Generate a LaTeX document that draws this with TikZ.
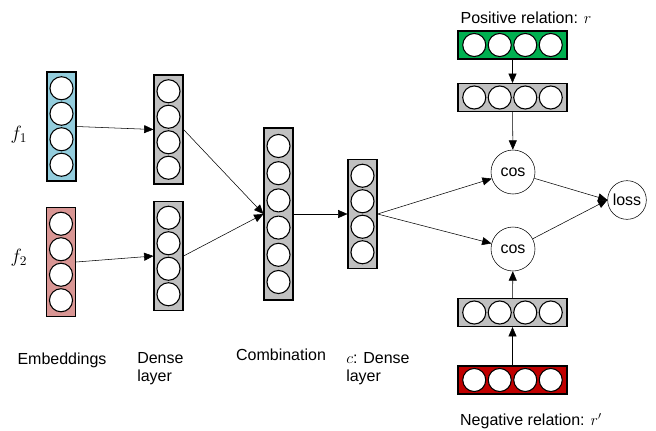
\documentclass[tikz,border=0pt]{standalone}
\usepackage{fontspec}
\setmainfont{Liberation Sans}
\usepackage{xcolor}
\usetikzlibrary{arrows.meta,positioning}

\definecolor{embblue}{HTML}{93CDDD}
\definecolor{embred}{HTML}{D99694}
\definecolor{posgreen}{HTML}{00B050}
\definecolor{negred}{HTML}{C00000}
\definecolor{densegray}{HTML}{C0C0C0}

\tikzset{
    vbox/.style={draw, thick, fill=#1, inner sep=0, minimum width=21.75pt, minimum height=81.75pt},
    hbox/.style={draw, thick, fill=#1, inner sep=0, minimum width=81.75pt, minimum height=21pt},
    unit/.style={draw, thick, fill=white, circle, inner sep=0, minimum size=17.3pt},
    op/.style={draw, circle, inner sep=0, font=\fontsize{12}{14}\selectfont},
    lbl/.style={font=\fontsize{12}{14}\selectfont, inner sep=0},
    link/.style={-{Triangle[length=7pt,width=6pt]}}
}

\begin{document}
\begin{tikzpicture}[x=0.75pt, y=-0.75pt]
    \useasboundingbox (0, 0) rectangle (656, 430);

    % Embeddings
    \node [vbox=embblue] (f1) at (61.5, 126.5) {};
    \node [vbox=embred] (f2) at (61, 262) {};
    \foreach \i in {1, 2, 3, 4} {
        \node [unit] (f1-\i) at (61.5, 126.5 - 63.75 + 25.5*\i) {};
        \node [unit] (f2-\i) at (61, 262 - 63.75 + 25.5*\i) {};
    }
    \node [lbl, font=\fontsize{14}{16}\selectfont] (f1l) at (19, 135) {$f_1$};
    \node [lbl, font=\fontsize{14}{16}\selectfont] (f2l) at (19, 258) {$f_2$};

    % Dense layers
    \node [vbox=densegray] (d1) at (168.5, 129.5) {};
    \node [vbox=densegray] (d2) at (168.5, 256) {};
    \foreach \i in {1, 2, 3, 4} {
        \node [unit] (d1-\i) at (168.5, 129.5 - 63.75 + 25.5*\i) {};
        \node [unit] (d2-\i) at (168.5, 256 - 63.75 + 25.5*\i) {};
    }

    % Combination
    \node [vbox=densegray, minimum height=129pt] (comb) at (278.5, 214) {};
    \foreach \i in {1, ..., 6} {
        \node [unit] (comb-\i) at (278.5, 214 - 95.2 + 27.2*\i) {};
    }

    % C: Dense layer
    \node [vbox=densegray] (cd) at (362.5, 214) {};
    \foreach \i in {1, 2, 3, 4} {
        \node [unit] (cd-\i) at (362.5, 214 - 63.75 + 25.5*\i) {};
    }

    % Relations
    \node [hbox=posgreen] (pos) at (512.5, 45) {};
    \node [hbox=densegray] (pd) at (512.5, 97.5) {};
    \node [hbox=densegray] (nd) at (512.5, 312.5) {};
    \node [hbox=negred] (neg) at (512.5, 380) {};
    \foreach \b/\y in {pos/45, pd/97.5, nd/312.5, neg/380} {
        \foreach \i in {1, 2, 3, 4} {
            \node [unit] (\b-\i) at (512.5 - 63.75 + 25.5*\i, \y) {};
        }
    }
    \node [lbl] (posl) at (526, 18) {Positive relation: {\large$r$}};
    \node [lbl] (negl) at (531, 421) {Negative relation: {\large$r'$}};

    % Similarities and loss
    \node [op, minimum size=33pt] (cos1) at (513, 172) {cos};
    \node [op, minimum size=33pt] (cos2) at (513, 249) {cos};
    \node [op, minimum size=29pt] (loss) at (627, 200) {loss};

    % Connections
    \draw [link] (f1.east) -- (d1.west);
    \draw [link] (f2.east) -- (d2.west);
    \draw [link] (d1.east) -- (comb.west);
    \draw [link] (d2.east) -- (comb.west);
    \draw [link] (comb.east) -- (cd.west);
    \draw [link] (cd.east) -- (cos1);
    \draw [link] (cd.east) -- (cos2);
    \draw [link] (pos) -- (pd);
    \draw [link] (pd) -- (cos1);
    \draw [link] (neg) -- (nd);
    \draw [link] (nd) -- (cos2);
    \draw [link] (cos1) -- (loss.west);
    \draw [link] (cos2) -- (loss.west);

    % Layer names
    \node [lbl] (embl) at (62, 360) {Embeddings};
    \node [lbl, anchor=north west, align=left] (dl) at (137, 352) {Dense\\layer};
    \node [lbl] (combl) at (281, 355) {Combination};
    \node [lbl, anchor=north west, align=left] (cdl) at (346, 352) {{\large$c$}: Dense\\layer};
\end{tikzpicture}
\end{document}
